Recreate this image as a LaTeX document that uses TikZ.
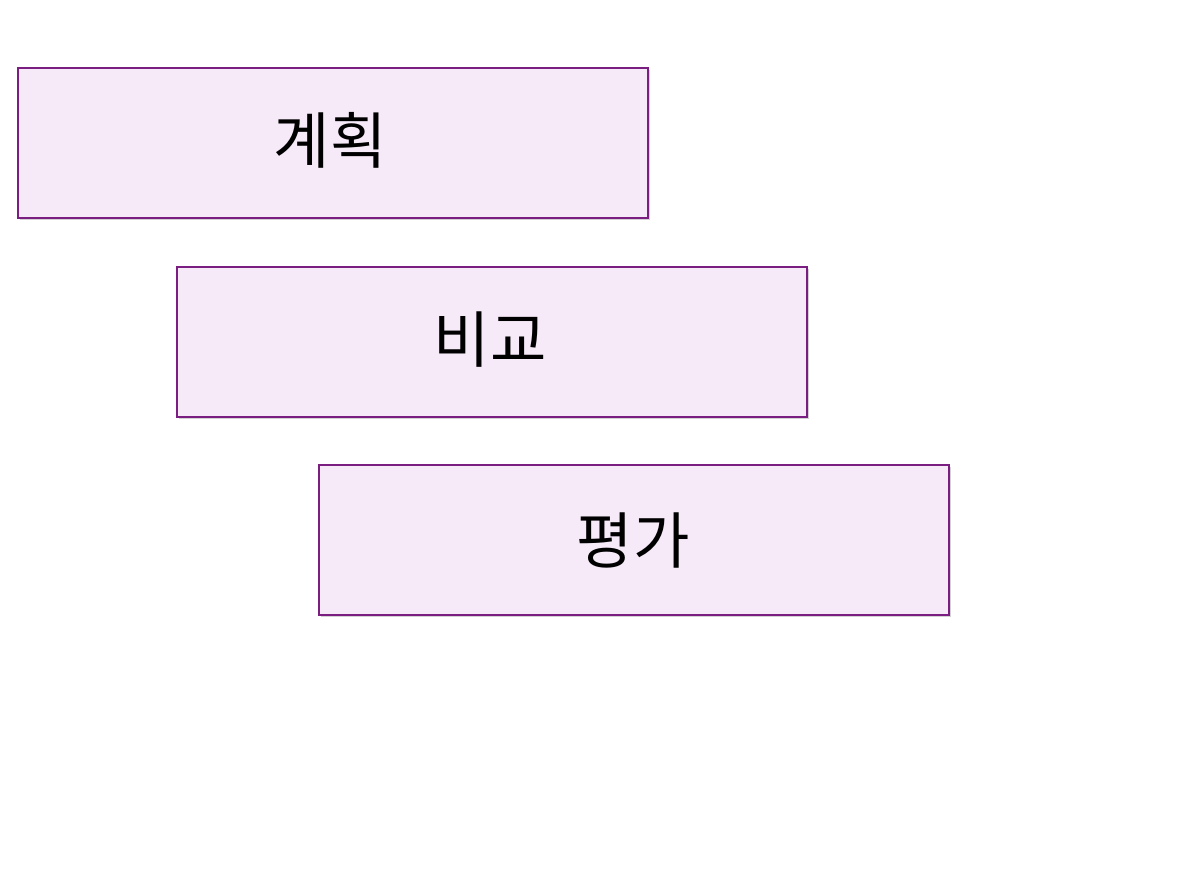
\documentclass[tikz,border=0pt]{standalone}
\usepackage{fontspec}
\usetikzlibrary{shadows}
\newfontfamily\kr{Noto Sans CJK KR}
\definecolor{boxfill}{HTML}{F6E9F8}
\definecolor{boxline}{HTML}{7A1E82}
\begin{document}
\begin{tikzpicture}[x=0.75pt,y=-0.75pt,
  box/.style={draw=boxline,line width=1.5pt,fill=boxfill,minimum width=630*0.75pt,minimum height=150*0.75pt,inner sep=0pt,anchor=north west,
    drop shadow={shadow xshift=1.5pt,shadow yshift=-1.5pt,fill=black!35}},
  lbl/.style={font=\kr\fontsize{46}{50}\selectfont}]
\useasboundingbox (0,0) rectangle (1193,896);
\node[box] (b1) at (17,67) {};
\node[box] (b2) at (176,266) {};
\node[box] (b3) at (318,464) {};
\node[lbl] (t1) at (330,140) {계획};
\node[lbl] (t2) at (490,340) {비교};
\node[lbl] (t3) at (633,540) {평가};
\end{tikzpicture}
\end{document}
